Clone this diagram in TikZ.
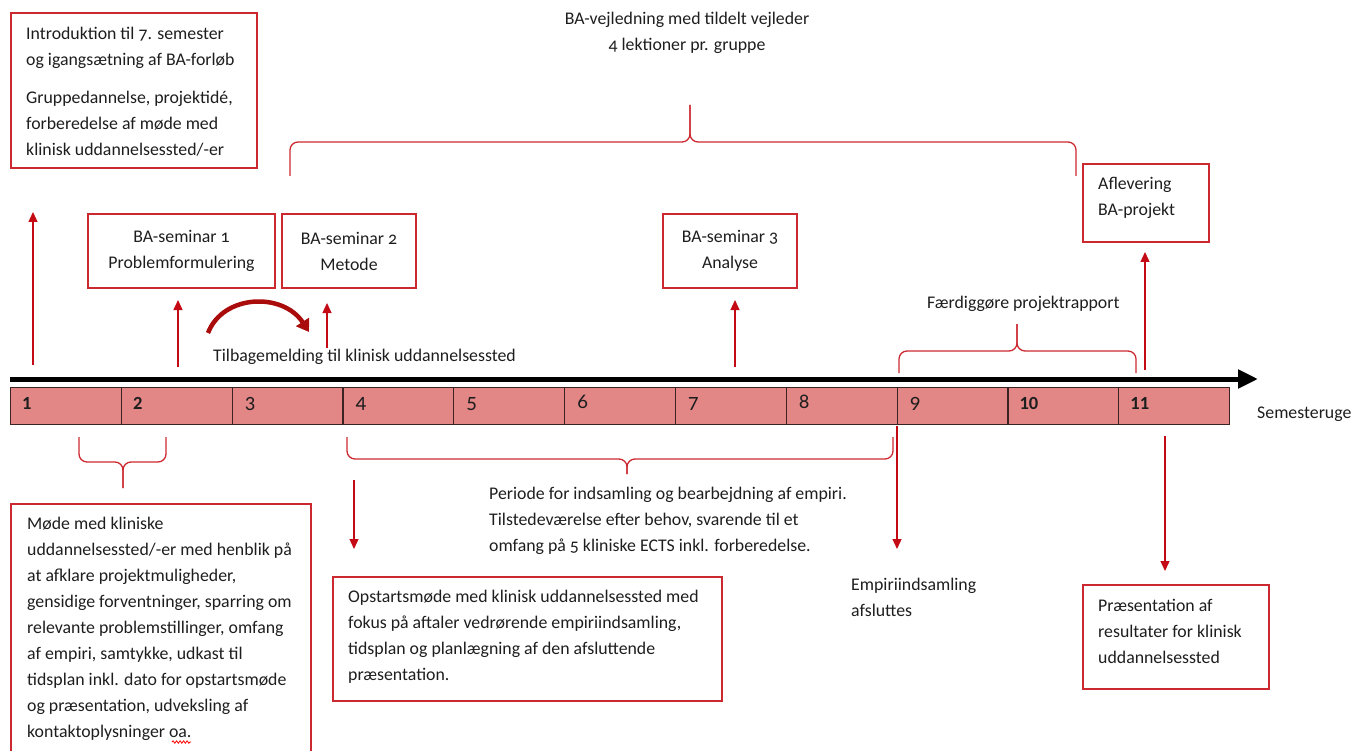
\documentclass[tikz,border=0pt]{standalone}
\usepackage{fontspec}
\setmainfont{Carlito}[Numbers=OldStyle]
\newfontfamily\numfont{Carlito}[Numbers=Lining]
\usetikzlibrary{arrows.meta,decorations.pathmorphing}
\definecolor{boxred}{RGB}{204,40,48}
\definecolor{arrred}{RGB}{196,10,20}
\definecolor{curvred}{RGB}{170,12,12}
\definecolor{pinkc}{RGB}{226,134,134}
\definecolor{celldark}{RGB}{60,35,35}
\definecolor{textc}{RGB}{30,30,30}
\newcommand{\mybrace}[6]{%
  \draw[bracepath] (#1,#3) -- (#1,#4) -- (#5,#4) -- (#5,#6);
  \draw[bracepath] (#2,#3) -- (#2,#4) -- (#5,#4) -- (#5,#6);}
\begin{document}
\begin{tikzpicture}[x=1pt,y=-1pt,
  redbox/.style={draw=boxred, line width=1.4pt, fill=white},
  txt/.style={font=\fontsize{17.8}{26}\selectfont, text=textc, inner sep=0pt, align=left},
  redarrow/.style={draw=arrred, line width=1.3pt, -{Triangle[length=10pt,width=9pt]}},
  bracepath/.style={draw=boxred, line width=1.3pt, rounded corners=8pt},
  cell/.style={draw=celldark, line width=1.2pt, fill=pinkc, minimum height=37pt, minimum width=110.82pt, inner sep=0pt, anchor=north west},
  numbold/.style={font=\numfont\bfseries\fontsize{18.5}{20}\selectfont, text=textc, inner sep=0pt, anchor=base west},
  numreg/.style={font=\fontsize{21}{22}\selectfont, text=textc, inner sep=0pt, anchor=base west}]
\useasboundingbox (0,0) rectangle (1359,751);

% top text and brace
\node[txt, align=center, anchor=north] (vejl) at (687,12) {BA-vejledning med tildelt vejleder\\4 lektioner pr. gruppe};
\mybrace{290}{1076}{176}{142}{690}{105}

% intro box
\node[redbox, minimum width=246pt, minimum height=155pt] (intro) at (134,90.5) {};
\node[txt, anchor=north west] (introtxt) at (26,27) {Introduktion til 7. semester\\og igangsætning af BA-forløb\\[12pt]Gruppedannelse, projektidé,\\forberedelse af møde med\\klinisk uddannelsessted/-er};

% seminar boxes
\node[redbox, txt, align=center, minimum width=187pt, minimum height=74pt] (s1) at (181.5,251) {BA-seminar 1\\Problemformulering};
\node[redbox, txt, align=center, minimum width=134pt, minimum height=74pt] (s2) at (349,251) {BA-seminar 2\\Metode};
\node[redbox, txt, align=center, minimum width=134pt, minimum height=74pt] (s3) at (730,251) {BA-seminar 3\\Analyse};

% aflevering
\node[redbox, minimum width=126pt, minimum height=78pt] (afl) at (1146,203) {};
\node[txt, anchor=north west] (afltxt) at (1098,177) {Aflevering\\BA-projekt};

% up arrows
\coordinate (a1s) at (33,365); \coordinate (a1e) at (33,212);
\coordinate (a2s) at (178,367); \coordinate (a2e) at (178,300);
\coordinate (a3s) at (327,348); \coordinate (a3e) at (327,303);
\coordinate (a4s) at (735,367); \coordinate (a4e) at (735,300);
\coordinate (a5s) at (1145,370); \coordinate (a5e) at (1145,252);
\draw[redarrow] (a1s) -- (a1e);
\draw[redarrow] (a2s) -- (a2e);
\draw[redarrow] (a3s) -- (a3e);
\draw[redarrow] (a4s) -- (a4e);
\draw[redarrow] (a5s) -- (a5e);

% curved arrow
\coordinate (cs) at (208,333); \coordinate (ce) at (309,332);
\draw[draw=curvred, line width=4.5pt, -{Triangle[length=12pt,width=15pt]}] (cs) .. controls (223,294) and (283,292) .. (ce);
\node[txt, anchor=base west] (tilb) at (213,361) {Tilbagemelding til klinisk uddannelsessted};

% færdiggøre
\node[txt, anchor=base west] (faerd) at (927,308) {Færdiggøre projektrapport};
\mybrace{899}{1136}{373}{351}{1017}{324}

% timeline
\coordinate (tls) at (10,379); \coordinate (tle) at (1258,379);
\draw[line width=5pt, -{Triangle[length=20pt,width=18pt]}] (tls) -- (tle);
\foreach \i in {1,...,11}{
  \node[cell] (w\i) at ({10+(\i-1)*110.82},387) {};
}
\foreach \i in {1,2,10,11}{
  \node[numbold] (n\i) at ({22+(\i-1)*110.82},409) {\i};
}
\foreach \i in {3,...,9}{
  \node[numreg] (n\i) at ({23+(\i-1)*110.82},408) {\i};
}
\node[txt, anchor=base west] (semu) at (1257,418) {Semesteruge};

% lower braces
\mybrace{79}{166}{437}{462}{123}{488}
\mybrace{347}{893}{437}{459}{627}{474}

% down arrows
\coordinate (d1s) at (354,480); \coordinate (d1e) at (354,549);
\coordinate (d2s) at (897,426); \coordinate (d2e) at (897,549);
\coordinate (d3s) at (1165,436); \coordinate (d3e) at (1165,571);
\draw[redarrow] (d1s) -- (d1e);
\draw[redarrow] (d2s) -- (d2e);
\draw[redarrow] (d3s) -- (d3e);

\node[txt, anchor=north west] (periode) at (489,487) {Periode for indsamling og bearbejdning af empiri.\\Tilstedeværelse efter behov, svarende til et\\omfang på 5 kliniske ECTS inkl. forberedelse.};

% bottom-left box (open at bottom)
\draw[draw=boxred, line width=1.4pt] (11,752) -- (11,504) -- (311,504) -- (311,752);
\node[txt, anchor=north west] (moede) at (27,517) {Møde med kliniske\\uddannelsessted/-er med henblik på\\at afklare projektmuligheder,\\gensidige forventninger, sparring om\\relevante problemstillinger, omfang\\af empiri, samtykke, udkast til\\tidsplan inkl. dato for opstartsmøde\\og præsentation, udveksling af\\kontaktoplysninger oa.};
\coordinate (sq1) at (172,742); \coordinate (sq2) at (191,742);
\draw[draw=red, line width=0.8pt, decorate, decoration={snake, amplitude=1.2pt, segment length=3.5pt}] (sq1) -- (sq2);

% opstart box
\node[redbox, minimum width=389pt, minimum height=124pt] (opst) at (527.5,639) {};
\node[txt, anchor=north west] (opsttxt) at (348,590) {Opstartsmøde med klinisk uddannelsessted med\\fokus på aftaler vedrørende empiriindsamling,\\tidsplan og planlægning af den afsluttende\\præsentation.};

% empiri text
\node[txt, anchor=north west] (empiri) at (851,578) {Empiriindsamling\\afsluttes};

% præsentation box
\node[redbox, minimum width=186pt, minimum height=104pt] (praes) at (1176,637) {};
\node[txt, anchor=north west] (praestxt) at (1098,599) {Præsentation af\\resultater for klinisk\\uddannelsessted};
\end{tikzpicture}
\end{document}
